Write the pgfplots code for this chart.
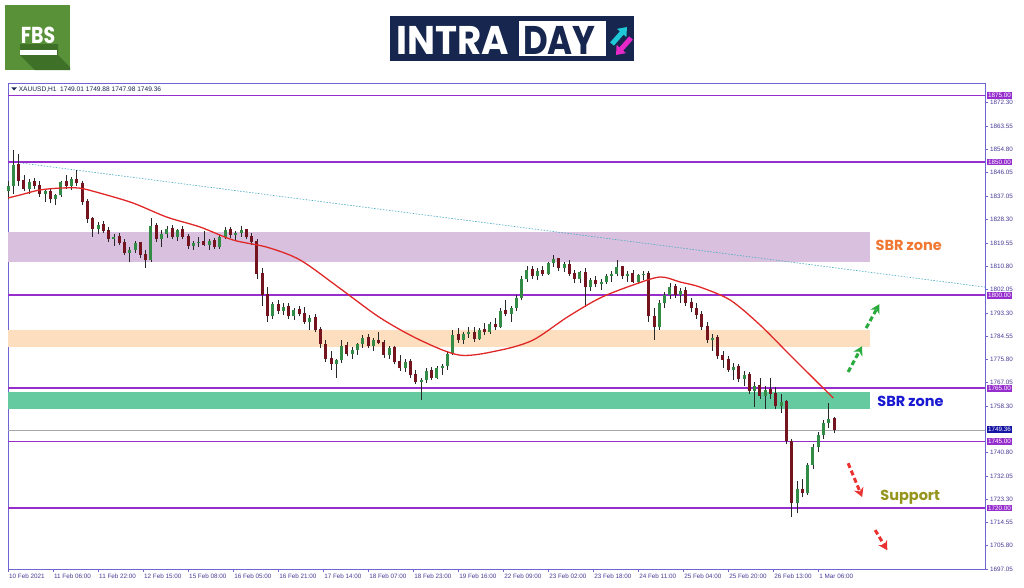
\documentclass[border=0pt]{standalone}
\usepackage{pgfplots}
\pgfplotsset{compat=1.18}
\usepackage{pgfplotstable}
\usepackage{graphicx}
\usepackage{fontspec}
\setmainfont{Liberation Sans}
\newfontfamily\pop{Poppins}
\usetikzlibrary{arrows.meta}
\definecolor{frameC}{RGB}{110,100,210}
\definecolor{labelC}{RGB}{70,60,150}
\definecolor{lvlC}{RGB}{150,45,205}
\definecolor{bullC}{RGB}{50,140,70}
\definecolor{bearC}{RGB}{115,20,30}
\definecolor{wickC}{RGB}{40,40,40}
\definecolor{maC}{RGB}{225,40,40}
\definecolor{zoneP}{RGB}{216,192,222}
\definecolor{zoneO}{RGB}{253,223,192}
\definecolor{zoneG}{RGB}{102,202,160}
\definecolor{trendC}{RGB}{70,170,195}
\definecolor{sbrO}{RGB}{240,120,50}
\definecolor{sbrB}{RGB}{25,25,210}
\definecolor{supC}{RGB}{150,150,30}
\definecolor{arrG}{RGB}{40,170,60}
\definecolor{arrR}{RGB}{235,50,50}
\definecolor{navy}{RGB}{22,38,78}
\definecolor{fbsG}{RGB}{88,145,55}
\definecolor{fbsD}{RGB}{62,112,40}
\definecolor{cyanA}{RGB}{30,200,215}
\definecolor{magA}{RGB}{230,40,200}
\definecolor{curC}{RGB}{20,20,165}

\pgfplotstableread{
x o h l c
0 1839 1843 1836 1841
2 1841 1854.5 1838 1849
4 1849 1853 1841 1843
6 1843 1845 1839 1840
8 1840 1843.5 1838 1842.5
10 1842.5 1844 1840 1841
12 1841 1843 1837 1838
14 1838 1840 1835 1839
16 1839 1840 1834.5 1836
18 1836 1838 1834 1837.5
20 1837.5 1843 1837 1842.5
22 1842.5 1845 1840 1841
24 1841 1844.5 1839.5 1843.5
26 1843.5 1847 1841 1842
28 1842 1843 1834 1835
30 1835 1836 1827 1828.5
32 1828.5 1829.5 1822 1825
34 1825 1827.5 1823 1826.5
36 1826.5 1828 1823.5 1824
38 1824 1825.5 1820 1821
40 1821 1823 1818.5 1822
42 1822 1823.5 1819 1819.5
44 1819.5 1821 1815 1816
46 1816 1818 1812.4 1817
48 1817 1820.5 1816 1819.5
50 1819.5 1820 1814 1815
52 1815 1817 1810 1813
54 1813 1829 1812.5 1826
56 1826 1827 1820 1821
58 1821 1824.5 1818 1823
60 1823 1826 1821.5 1825
62 1825 1826.5 1821 1822
64 1822 1825 1820.5 1824.5
66 1824.5 1826 1821 1822
68 1822 1823 1817.5 1818.5
70 1818.5 1820.5 1817 1819.5
72 1819.5 1822 1818 1820
74 1820 1824 1818.5 1818.8
76 1818.8 1821 1817 1820.5
78 1820.5 1821.5 1817.5 1818
80 1818 1822.5 1817.5 1822
82 1822 1825.5 1821 1824.5
84 1824.5 1825.5 1821.5 1822.5
86 1822.5 1824 1820.5 1823.5
88 1823.5 1826 1822 1824.5
90 1824.5 1825 1821 1822
92 1822 1823.5 1819 1820
94 1820 1821 1806 1808
96 1808 1810 1796 1800
98 1800 1803 1790 1792
100 1792 1797.5 1791 1796.5
102 1796.5 1798 1793 1794
104 1794 1797 1792.5 1795.5
106 1795.5 1797 1791 1792
108 1792 1795 1790.5 1794.5
110 1794.5 1796 1792 1793
112 1793 1795.5 1789 1790
114 1790 1792.5 1787 1791.5
116 1791.5 1793 1786 1787
118 1787 1788 1780 1781.5
120 1781.5 1783 1775 1776
122 1776 1779 1772 1774
124 1774 1776 1769 1775.5
126 1775.5 1783 1774.5 1781
128 1781 1782.5 1777 1778
130 1778 1780.5 1776 1779.5
132 1779.5 1782 1777.5 1781.5
134 1781.5 1785 1780 1784
136 1784 1785.5 1780 1781
138 1781 1784 1779 1783
140 1783 1786 1781.5 1782
142 1782 1783 1776.5 1777.5
144 1777.5 1781 1776 1780
146 1780 1781 1774 1775
148 1775 1777.5 1771.5 1772.5
150 1772.5 1776 1771 1775
152 1775 1776 1769 1770
154 1770 1772 1766.5 1767.5
156 1767.5 1769 1760.5 1768
158 1768 1772.5 1767 1771.5
160 1771.5 1773 1768 1769
162 1769 1773.5 1768.5 1772.5
164 1772.5 1774 1770 1773.5
166 1773.5 1779 1772 1778
168 1778 1787 1777.5 1785
170 1785 1787.5 1782 1783
172 1783 1786 1781.5 1785.5
174 1785.5 1788 1784 1786
176 1786 1788 1782.5 1783.5
178 1783.5 1787.5 1783 1787
180 1787 1789.5 1785 1786
182 1786 1790 1785.5 1789
184 1789 1791.5 1787 1788
186 1788 1795 1787.5 1794
188 1794 1798 1792 1793
190 1793 1796 1790 1795
192 1795 1800 1794 1799
194 1799 1807 1798 1806
196 1806 1811 1805 1809.5
198 1809.5 1811 1806 1807
200 1807 1810 1805.5 1809
202 1809 1811 1807 1808
204 1808 1812.5 1807.5 1812
206 1812 1815 1810.5 1813.5
208 1813.5 1814 1809 1810
210 1810 1812.5 1808.5 1811.5
212 1811.5 1813 1807 1808
214 1808 1809.5 1804.5 1806
216 1806 1809 1804.5 1808.5
218 1808.5 1810 1795.5 1803
220 1803 1806.5 1801.5 1805.5
222 1805.5 1807 1803 1804
224 1804 1806 1802 1805
226 1805 1808 1804 1807
228 1807 1809 1805 1808
230 1808 1813 1807 1810.5
232 1810.5 1811 1806 1807
234 1807 1809 1805 1808
236 1808 1809.5 1804.5 1805
238 1805 1808 1804 1807.5
240 1807.5 1809 1805.5 1808
242 1808 1809 1790 1792
244 1792 1795 1783 1788
246 1788 1798 1787 1797
248 1797 1801 1795 1800
250 1800 1804.5 1798.5 1803
252 1803 1804 1799 1800
254 1800 1802.5 1797 1801.5
256 1801.5 1803 1796 1797
258 1797 1799 1793.5 1795
260 1795 1797 1791 1792.5
262 1792.5 1794 1787 1788
264 1788 1790 1782 1783
266 1783 1785.5 1779 1784
268 1784 1785 1776 1777
270 1777 1779 1772.5 1775.5
272 1775.5 1777 1771 1772
274 1772 1774.5 1768 1773
276 1773 1774 1767.5 1768.5
278 1768.5 1771.5 1766 1770
280 1770 1771 1763 1764
282 1764 1767.5 1758 1766
284 1766 1769 1761 1762
286 1762 1766 1757 1764.5
288 1764.5 1769 1761 1763
290 1763 1765.5 1757 1758.5
292 1758.5 1763 1755.5 1760
294 1760 1760.5 1744 1745
296 1745 1746 1716.5 1722
298 1722 1730 1718 1727
300 1727 1731 1724 1725.5
302 1725.5 1737 1725 1736
304 1736 1744 1734.5 1743
306 1743 1748.5 1741 1747.5
308 1747.5 1753 1746 1752
310 1752 1759.4 1750 1753.5
312 1753.5 1754 1747.98 1749.36
}\candles

\pgfplotstableread{
x y
0 1836.5
4.5 1837.6
12 1839.5
19.6 1840.2
27 1840.2
34.8 1838.3
47.2 1834.6
60 1829.3
72.5 1825.6
85 1820.7
97.8 1818
110.3 1813.2
125.4 1802.5
140.5 1791.5
155.6 1783.1
170.8 1777.4
185.9 1779.3
198.3 1783.1
211.2 1791.7
223.6 1798.9
236.1 1803.8
246.3 1806.8
253.9 1804.9
261.4 1803
272.8 1798.1
284.1 1788.7
295.4 1777.4
303 1769.9
311.7 1761.3
}\ma

\begin{document}
\begin{tikzpicture}
\path[use as bounding box, fill=white] (0pt,0pt) rectangle (1024pt,-587pt);

% FBS logo
\begin{scope}[x=1pt,y=-1pt]
\fill[fbsG] (5,5) rectangle (70,70);
\fill[fbsD] (20,44) -- (58,44) -- (58,55) -- (70,67) -- (70,70) -- (35,70) -- (20,55) -- cycle;
\node[text=white, font=\pop\bfseries\fontsize{21}{21}\selectfont] at (38,35) {\scalebox{0.9}[1.1]{FBS}};
\fill[white] (20,50) rectangle (57,55);
% INTRADAY logo
\fill[navy] (390,16) rectangle (634,61);
\fill[white] (519,21) rectangle (606,56);
\node[anchor=west, text=white, font=\pop\bfseries\fontsize{40}{40}\selectfont, inner sep=0pt] at (396,40.5) {\scalebox{0.93}[1]{INTRA}};
\node[anchor=west, text=navy, font=\pop\bfseries\fontsize{40}{40}\selectfont, inner sep=0pt] at (523,40.5) {\scalebox{0.85}[1]{DAY}};
\draw[cyanA, line width=5pt, -{Triangle[length=8pt,width=12pt]}] (612,44) -- (627,27);
\draw[magA, line width=5pt, -{Triangle[length=8pt,width=12pt]}] (631,38) -- (616,55);
\end{scope}

\begin{axis}[
  at={(8pt,-569pt)}, anchor=south west,
  scale only axis, width=977pt, height=486pt,
  xmin=0, xmax=369, ymin=1697.05, ymax=1879.7,
  axis line style={draw=frameC, line width=0.9pt},
  xtick={0,17,...,306},
  xticklabels={10 Feb 2021, 11 Feb 06:00, 11 Feb 22:00, 12 Feb 15:00, 15 Feb 08:00, 16 Feb 05:00, 16 Feb 21:00, 17 Feb 14:00, 18 Feb 07:00, 18 Feb 23:00, 19 Feb 16:00, 22 Feb 09:00, 23 Feb 02:00, 23 Feb 18:00, 24 Feb 11:00, 25 Feb 04:00, 25 Feb 20:00, 26 Feb 13:00, 1 Mar 06:00},
  ytick={1697.05,1705.80,1714.55,1723.30,1732.05,1740.80,1758.30,1767.05,1775.80,1784.55,1793.30,1802.05,1810.80,1819.55,1828.30,1837.05,1846.05,1854.80,1863.55,1872.30},
  yticklabels={1697.05,1705.80,1714.55,1723.30,1732.05,1740.80,1758.30,1767.05,1775.80,1784.55,1793.30,1802.05,1810.80,1819.55,1828.30,1837.05,1846.05,1854.80,1863.55,1872.30},
  ytick pos=right, yticklabel pos=right, xtick pos=bottom,
  tick align=outside, major tick length=3pt,
  tick style={draw=frameC, line width=0.6pt},
  xticklabel style={font=\fontsize{6.3}{7}\selectfont, text=labelC, anchor=north west, inner sep=1pt, yshift=-1pt},
  yticklabel style={font=\fontsize{6.3}{7}\selectfont, text=labelC, anchor=west, inner sep=1pt, xshift=1pt},
  clip=false,
]
% zones
\addplot[fill=zoneP, draw=none] coordinates {(0,1812.4) (325.6,1812.4) (325.6,1823.7) (0,1823.7)} -- cycle;
\addplot[fill=zoneO, draw=none] coordinates {(0,1780.5) (325.6,1780.5) (325.6,1786.8) (0,1786.8)} -- cycle;
\addplot[fill=zoneG, draw=none] coordinates {(0,1757.1) (325.6,1757.1) (325.6,1763.5) (0,1763.5)} -- cycle;
% trend line
\addplot[trendC, line width=0.6pt, dash pattern=on 1.5pt off 1.5pt] coordinates {(4.5,1849.7) (369,1803)};
% levels
\addplot[lvlC, line width=1.7pt] coordinates {(0,1875) (369,1875)};
\addplot[lvlC, line width=1.7pt] coordinates {(0,1850) (369,1850)};
\addplot[lvlC, line width=1.7pt] coordinates {(0,1800) (369,1800)};
\addplot[lvlC, line width=1.7pt] coordinates {(0,1765) (369,1765)};
\addplot[lvlC, line width=1.7pt] coordinates {(0,1745) (369,1745)};
\addplot[lvlC, line width=1.7pt] coordinates {(0,1720) (369,1720)};
\addplot[gray!70, line width=0.5pt] coordinates {(0,1749.36) (369,1749.36)};
% candles: wicks
\addplot[draw=none, mark=none, error bars/.cd, y dir=plus, y explicit, error mark=none,
  error bar style={draw=wickC, line width=0.7pt}]
  table[x=x, y=l, y error plus expr=\thisrow{h}-\thisrow{l}] {\candles};
% bear bodies
\addplot[draw=none, mark=none, restrict expr to domain={\thisrow{o}-\thisrow{c}}{0:1000},
  error bars/.cd, y dir=plus, y explicit, error mark=none,
  error bar style={draw=bearC, line width=3pt}]
  table[x=x, y=c, y error plus expr=\thisrow{o}-\thisrow{c}+0.3] {\candles};
% bull bodies
\addplot[draw=none, mark=none, restrict expr to domain={\thisrow{c}-\thisrow{o}}{0.001:1000},
  error bars/.cd, y dir=plus, y explicit, error mark=none,
  error bar style={draw=bullC, line width=3pt}]
  table[x=x, y=o, y error plus expr=\thisrow{c}-\thisrow{o}] {\candles};
% moving average
\addplot[maC, line width=1.3pt, smooth] table[x=x, y=y] {\ma};
% arrows
\addplot[arrG, line width=3pt, dash pattern=on 5pt off 3pt, -{Stealth[length=9pt,width=10pt]}] coordinates {(317.3,1771.1) (322.6,1780.8)};
\addplot[arrG, line width=3pt, dash pattern=on 5pt off 3pt, -{Stealth[length=9pt,width=10pt]}] coordinates {(324.1,1787.6) (329.1,1796.6)};
\addplot[arrR, line width=3pt, dash pattern=on 5pt off 3pt, -{Stealth[length=9pt,width=10pt]}] coordinates {(317.3,1736.8) (322.6,1724.1)};
\addplot[arrR, line width=3pt, dash pattern=on 5pt off 3pt, -{Stealth[length=9pt,width=10pt]}] coordinates {(327.5,1711.7) (332.1,1704.1)};
% texts
\node[anchor=west, text=sbrO, font=\pop\bfseries\fontsize{14.5}{14.5}\selectfont, inner sep=0pt] at (axis cs:327.6,1818.8) {SBR zone};
\node[anchor=west, text=sbrB, font=\pop\bfseries\fontsize{14.5}{14.5}\selectfont, inner sep=0pt] at (axis cs:328.3,1760.2) {SBR zone};
\node[anchor=west, text=supC, font=\pop\bfseries\fontsize{14.5}{14.5}\selectfont, inner sep=0pt] at (axis cs:329.4,1724.1) {Support};
\node[anchor=west, text=navy, font=\fontsize{6.6}{7}\selectfont, inner sep=0pt] at (axis cs:4.0,1877.3) {XAUUSD,H1\ \ 1749.01 1749.88 1747.98 1749.36};
\fill[navy] (axis cs:1.2,1878.1) -- (axis cs:3.4,1878.1) -- (axis cs:2.3,1876.9) -- cycle;
\coordinate (p1875) at (axis cs:369,1875);
\coordinate (p1850) at (axis cs:369,1850);
\coordinate (p1800) at (axis cs:369,1800);
\coordinate (p1765) at (axis cs:369,1765);
\coordinate (p1745) at (axis cs:369,1745);
\coordinate (p1720) at (axis cs:369,1720);
\coordinate (pcur) at (axis cs:369,1749.36);
\end{axis}
\foreach \p/\t in {p1875/1875.00,p1850/1850.00,p1800/1800.00,p1765/1765.00,p1745/1745.00,p1720/1720.00}{
  \node[anchor=west, fill=lvlC, text=white, font=\fontsize{6.3}{7}\selectfont, inner xsep=1.5pt, inner ysep=1.2pt, xshift=1.5pt] at (\p) {\t};
}
\node[anchor=west, fill=curC, text=white, font=\fontsize{6.3}{7}\selectfont, inner xsep=1.5pt, inner ysep=1.2pt, xshift=1.5pt] at (pcur) {1749.36};
\end{tikzpicture}
\end{document}
